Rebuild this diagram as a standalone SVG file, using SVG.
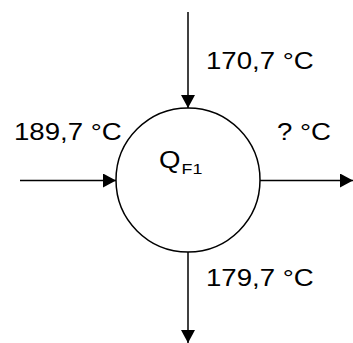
<svg xmlns="http://www.w3.org/2000/svg" width="353" height="343" viewBox="0 0 353 343">
<defs>
<style>
.ln{stroke:#000;stroke-width:1.5;fill:none}
.t{font-family:"Liberation Sans",Arial,sans-serif;font-size:24px;fill:#000}
.t.s{font-size:15.5px}
</style>
<marker id="ah" markerUnits="userSpaceOnUse" markerWidth="14" markerHeight="14" viewBox="0 0 13 14" refX="13" refY="7" orient="auto">
<path d="M0,0 L13,7 L0,14 Z" fill="#000"/>
</marker>
</defs>
<rect width="353" height="343" fill="#fff"/>
<g id="connectors">
<line class="ln" x1="188" y1="12" x2="188" y2="108" marker-end="url(#ah)"/>
<line class="ln" x1="20" y1="180.5" x2="116" y2="180.5" marker-end="url(#ah)"/>
<line class="ln" x1="260" y1="180.5" x2="353" y2="180.5" marker-end="url(#ah)"/>
<line class="ln" x1="188" y1="252" x2="188" y2="343" marker-end="url(#ah)"/>
</g>
<g id="node-QF1">
<circle class="ln" cx="188" cy="180" r="72"/>
<text class="t" transform="translate(159 168) scale(1.15 1)">Q</text>
<text class="t s" transform="translate(181.5 173.5) scale(1.15 1)">F1</text>
</g>
<g id="labels">
<text class="t" transform="translate(206 69) scale(1.15 1)">170,7 °C</text>
<text class="t" transform="translate(14 140) scale(1.15 1)">189,7 °C</text>
<text class="t" transform="translate(277 140) scale(1.15 1)">? °C</text>
<text class="t" transform="translate(206 286) scale(1.15 1)">179,7 °C</text>
</g>
</svg>
